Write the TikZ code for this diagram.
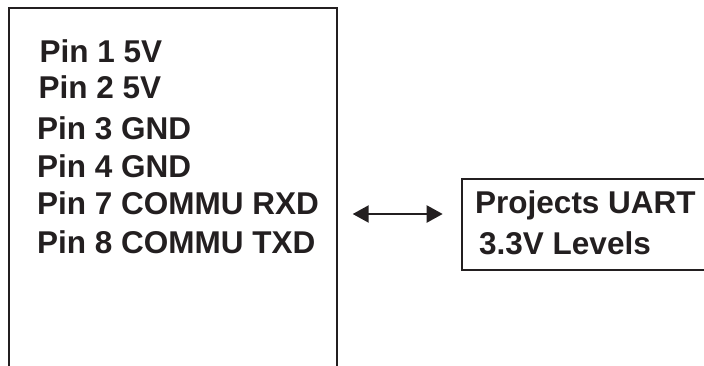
\documentclass[tikz,border=0pt]{standalone}
\usepackage{fontspec}
\usetikzlibrary{arrows.meta}
\newfontfamily\lblfont{Liberation Sans}
\definecolor{ink}{HTML}{231F20}
\tikzset{
  boxframe/.style={draw=ink, line width=2pt, rectangle, inner sep=0pt, anchor=north west},
  lbl/.style={inner sep=0pt, anchor=base west, text=ink, font=\lblfont\bfseries\fontsize{31.5}{36}\selectfont},
  conn/.style={draw=ink, line width=2.2pt, {Triangle[length=16pt,width=17pt]}-{Triangle[length=16pt,width=17pt]}}
}
\begin{document}
\begin{tikzpicture}[x=1pt,y=-1pt]
\useasboundingbox (0,0) rectangle (704,365);
\clip (0,0) rectangle (704,365);
\node[boxframe, minimum width=328pt, minimum height=420pt] (pinbox) at (8,7) {};
\node[boxframe, minimum width=280pt, minimum height=90.7pt] (uartbox) at (461,178.3) {};
\node[lbl] (p1) at (39.5,62.5) {Pin 1 5V};
\node[lbl] (p2) at (38.5,98) {Pin 2 5V};
\node[lbl] (p3) at (37,139) {Pin 3 GND};
\node[lbl] (p4) at (37,177) {Pin 4 GND};
\node[lbl] (p7) at (37,214) {Pin 7 COMMU RXD};
\node[lbl] (p8) at (37,253) {Pin 8 COMMU TXD};
\node[lbl] (u1) at (475,213) {Projects UART};
\node[lbl] (u2) at (479,254) {3.3V Levels};
\coordinate (aL) at (352.7,214);
\coordinate (aR) at (442.7,214);
\draw[conn] (aL) -- (aR);
\end{tikzpicture}
\end{document}
